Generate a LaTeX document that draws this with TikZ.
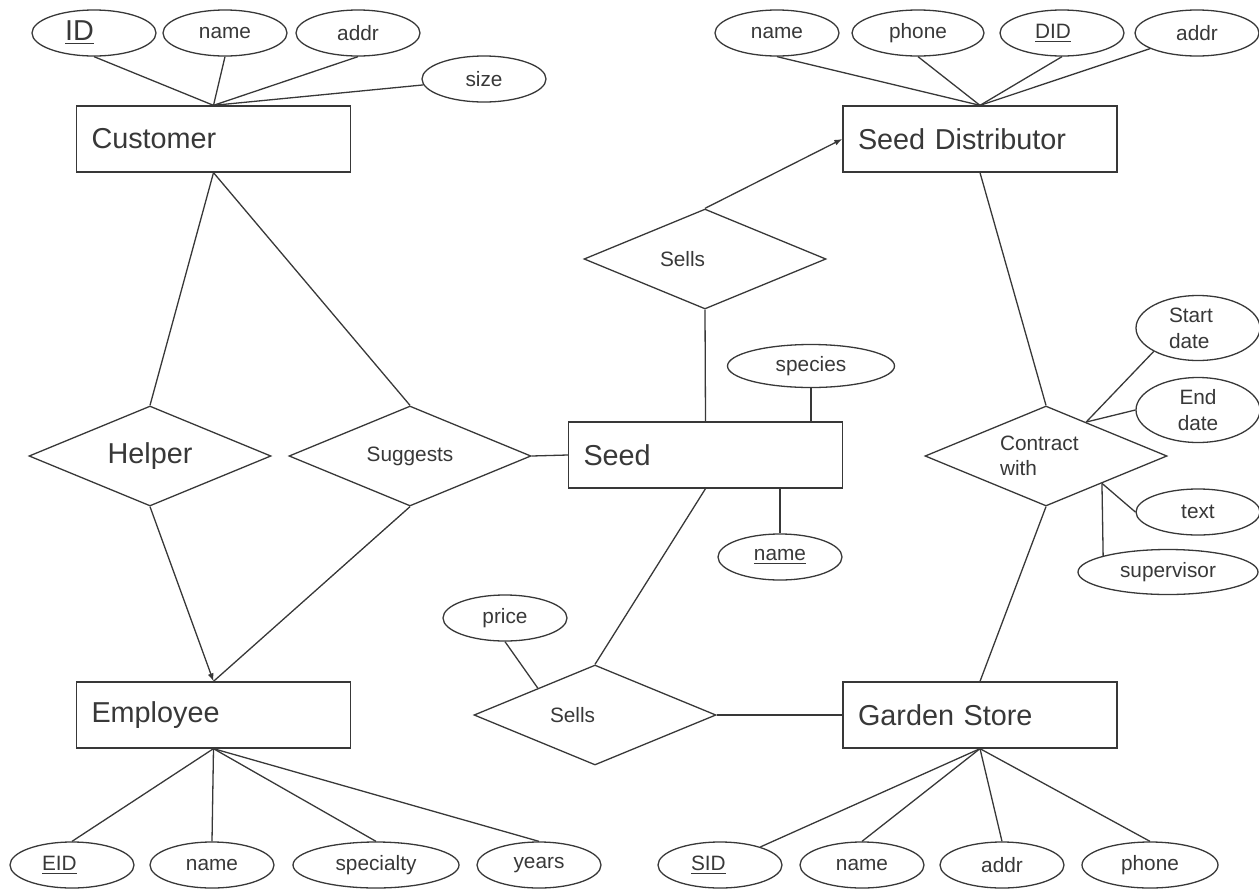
\documentclass[tikz,border=0pt]{standalone}
\usepackage{fontspec}
\setmainfont{Liberation Sans}
\usetikzlibrary{arrows.meta,calc,shapes.geometric}

\begin{document}
\begin{tikzpicture}[x=0.5pt,y=-0.5pt,>={Latex[length=4pt,width=3pt]},
  line width=0.65pt,color=black!78,
  big/.style={font=\fontsize{14.4}{17}\selectfont},
  entity/.style={rectangle,draw,big,minimum height=33pt,inner xsep=7.5pt,
    text width=122pt,align=left},
  attr/.style={ellipse,draw,inner sep=0pt,minimum width=62pt,minimum height=23pt,
    font=\fontsize{10.4}{13}\selectfont},
  rel/.style={diamond,draw,aspect=2.42,inner sep=0pt,minimum width=121pt,
    minimum height=50pt,font=\fontsize{10.4}{12.5}\selectfont},
  lefttext/.style={text width=#1,align=left}]
\useasboundingbox (0,0) rectangle (1259,889);

% Entities
\node[entity] (cust) at (213.5,139) {Customer};
\node[entity] (dist) at (980,139) {Seed Distributor};
\node[entity] (seed) at (705.5,455) {Seed};
\node[entity] (emp) at (213.5,715) {Employee};
\node[entity] (store) at (980,715) {Garden Store};

% Relationships
\node[rel,big] (helper) at (150,456) {Helper};
\node[rel] (sugg) at (410,456) {Suggests};
\node[rel,lefttext=45pt] (sellsd) at (705,259) {Sells};
\node[rel,lefttext=45pt] (sellss) at (595,715) {Sells};
\node[rel,lefttext=46pt] (contract) at (1046,456) {Contract\\with};

% Attributes
\node[attr,big,lefttext=29pt] (cid) at (94,33) {\underline{ID}};
\node[attr] (cname) at (225,33) {name};
\node[attr] (caddr) at (358,33) {addr};
\node[attr] (csize) at (484,79) {size};

\node[attr] (dname) at (777,33) {name};
\node[attr,minimum width=66pt] (dphone) at (918,33) {phone};
\node[attr,lefttext=27pt] (did) at (1062,33) {\underline{DID}};
\node[attr] (daddr) at (1197,33) {addr};

\node[attr,minimum width=83.5pt,minimum height=21.5pt] (species) at (811,366) {species};
\node[attr] (sname) at (780,557) {\underline{name}};
\node[attr] (price) at (505,618) {price};

\node[attr,minimum height=32.5pt,lefttext=29pt] (sdate) at (1198,328) {Start\\date};
\node[attr,minimum height=32.5pt,align=center] (edate) at (1198,410) {End\\date};
\node[attr] (txt) at (1198,512) {text};
\node[attr,minimum width=90pt,minimum height=22.5pt] (supv) at (1168,572) {supervisor};

\node[attr,lefttext=30pt] (eid) at (72,865) {\underline{EID}};
\node[attr] (ename) at (212,865) {name};
\node[attr,minimum width=83pt] (espec) at (376,865) {specialty};
\node[attr] (eyears) at (539,865) {years};

\node[attr,lefttext=29pt] (sid) at (720,865) {\underline{SID}};
\node[attr] (gname) at (862,865) {name};
\node[attr] (gaddr) at (1002,865) {addr};
\node[attr,minimum width=68pt] (gphone) at (1150,865) {phone};

% Attribute links
\foreach \a in {cid,cname,caddr}
\draw (cust.north) -- (\a.south);
\draw (cust.north) -- (csize);
\foreach \a in {dname,dphone,did}
\draw (dist.north) -- (\a.south);
\draw (dist.north) -- (daddr);
\foreach \a in {eid,ename,espec,eyears}
\draw (emp.south) -- (\a.north);
\draw (store.south) -- (sid);
\foreach \a in {gname,gaddr,gphone}
\draw (store.south) -- (\a.north);
\draw (species) -- (species |- seed.north);
\draw (seed.south -| sname) -- (sname);

\coordinate (pricept) at ($(sellss.west)!0.53!(sellss.north)$);
\draw (price.south) -- (pricept);
\coordinate (cw1) at ($(contract.north)!0.33!(contract.east)$);
\coordinate (cw2) at ($(contract.east)!0.54!(contract.south)$);
\draw (cw1) -- (sdate.south west);
\draw (cw1) -- (edate.west);
\draw (cw2) -- (txt.west);
\draw (cw2) -- (supv.166);

% Relationship links
\draw (cust.south) -- (helper.north);
\draw (cust.south) -- (sugg.north);
\draw[->] (helper.south) -- (emp.north);
\draw (sugg.south) -- (emp.north);
\draw (sugg.east) -- (seed.west);
\draw[->] (sellsd.north) -- (dist.west);
\draw (sellsd.south) -- (seed.north);
\draw (seed.south) -- (sellss.north);
\draw (sellss.east) -- (store.west);
\draw (dist.south) -- (contract.north);
\draw (contract.south) -- (store.north);
\end{tikzpicture}
\end{document}
